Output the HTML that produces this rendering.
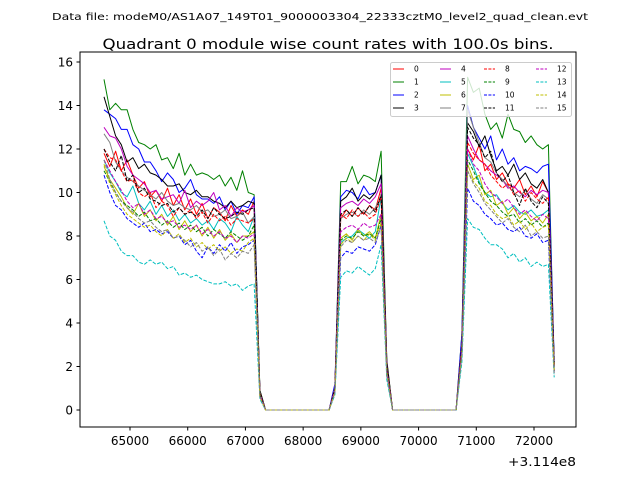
<!DOCTYPE html>
<html><head><meta charset="utf-8"><style>
html,body{margin:0;padding:0;background:#fff;}
svg{display:block;font-family:"DejaVu Sans","Liberation Sans",sans-serif;}
</style></head><body>
<svg id="chart" width="640" height="480" viewBox="0 0 640 480" xmlns="http://www.w3.org/2000/svg">
<rect width="640" height="480" fill="#fff"/>
<text x="320" y="20" font-size="10" text-anchor="middle" textLength="536" lengthAdjust="spacingAndGlyphs">Data file: modeM0/AS1A07_149T01_9000003304_22333cztM0_level2_quad_clean.evt</text>
<text x="328" y="49" font-size="14.4" text-anchor="middle" textLength="451" lengthAdjust="spacingAndGlyphs">Quadrant 0 module wise count rates with 100.0s bins.</text>
<g id="plot"></g>
<rect x="80" y="52" width="496" height="375" fill="none" stroke="#000" stroke-width="1"/>
<g id="axes"></g>
<text x="576" y="466" font-size="12" text-anchor="end" textLength="68" lengthAdjust="spacingAndGlyphs">+3.114e8</text>
<g id="legend"></g>
</svg>
<script>
const xStart = 64550, xStep = 100;
const yTicks = [0,2,4,6,8,10,12,14,16];
const xTicks = [65000,66000,67000,68000,69000,70000,71000,72000];
const seriesNames = ["0","1","2","3","4","5","6","7","8","9","10","11","12","13","14","15"];
const gapZeros = [0,0,0,0,0,0,0,0,0,0,0,0];
const segA = [
[11.8,11.2,11.9,11.0,11.5,10.8,10.2,10.5,9.8,10.1,9.6,10.2,9.4,9.9,9.2,9.7,9.0,9.5,8.8,9.3,9.1,8.7,9.4,8.9,9.2,9.0,9.6,0.8],
[15.2,13.8,14.1,13.8,13.8,12.9,12.3,12.2,12.0,12.2,11.5,11.6,11.1,11.8,10.8,11.3,10.8,10.9,10.8,10.6,10.8,10.3,10.7,10.1,11.0,10.0,9.9,0.9],
[13.8,13.6,13.4,12.9,12.9,12.2,12.0,11.4,11.4,11.0,10.5,10.9,10.6,10.0,10.2,10.6,9.9,9.7,9.7,9.5,9.8,9.2,9.6,9.0,9.4,9.3,9.8,0.8],
[14.4,13.5,12.6,12.2,11.4,11.6,11.1,11.3,10.9,10.8,10.6,10.3,10.3,10.4,10.0,9.9,10.1,9.8,9.8,9.6,9.5,9.3,9.6,9.3,9.4,9.6,9.5,0.9],
[13.0,12.6,12.5,12.0,11.2,10.8,10.6,10.4,10.0,10.1,9.7,9.8,9.9,9.5,10.1,9.3,9.6,9.4,9.6,10.0,9.2,9.4,8.9,9.3,9.1,9.2,9.4,0.8],
[11.5,10.9,10.5,10.0,9.8,10.3,9.5,9.2,9.6,9.0,9.4,8.9,9.2,8.7,9.0,8.6,8.8,8.5,8.7,8.3,8.8,8.6,8.2,8.9,8.5,8.2,8.9,0.7],
[11.2,10.6,10.2,9.8,9.3,9.0,9.5,8.9,9.2,8.7,9.0,8.5,8.9,8.3,8.7,8.2,8.5,8.0,8.4,7.9,8.3,7.8,8.1,7.7,8.0,8.0,8.2,0.7],
[12.7,12.3,11.4,11.0,10.7,10.5,10.3,10.1,9.9,9.7,10.0,9.6,9.4,9.5,9.3,9.2,9.4,9.1,9.2,8.9,9.0,9.2,8.8,8.9,9.1,8.6,8.9,0.8],
[12.0,11.6,11.5,11.0,10.5,10.6,10.0,9.8,10.0,9.3,9.6,9.4,8.9,9.3,9.0,9.2,8.8,9.1,8.6,9.0,8.7,8.9,8.5,8.8,8.7,8.6,8.8,0.8],
[11.0,10.5,10.0,9.6,9.4,9.2,8.9,9.1,8.7,8.8,8.5,8.7,8.4,8.6,8.3,8.5,8.2,8.4,8.0,8.3,8.1,7.9,8.2,8.0,7.8,8.0,8.5,0.7],
[10.8,10.0,9.4,9.2,8.8,8.6,8.4,8.6,8.2,8.3,8.1,8.2,7.9,8.0,7.6,7.8,7.3,7.0,7.5,7.2,7.6,7.3,7.7,7.2,7.5,7.6,7.8,0.6],
[12.0,11.4,11.0,11.7,10.5,10.8,10.0,10.2,9.7,9.6,9.4,9.5,9.1,9.3,9.0,9.1,8.9,9.2,8.8,9.3,9.0,8.8,8.9,9.1,9.0,9.2,9.3,0.8],
[11.5,11.0,10.5,10.1,9.6,9.3,9.5,9.0,9.2,8.8,8.9,8.6,8.7,8.4,8.5,8.3,8.5,8.1,8.3,8.0,8.2,7.9,8.0,7.7,8.0,7.9,8.1,0.7],
[8.7,8.0,7.8,7.3,7.1,7.1,6.8,6.7,6.9,6.7,6.8,6.5,6.6,6.2,6.3,6.1,6.2,6.0,5.9,5.8,5.8,5.9,5.7,5.8,5.5,5.7,5.8,0.5],
[11.3,10.4,9.9,9.4,9.0,8.8,8.6,8.4,8.5,8.2,8.0,8.3,7.9,8.1,7.7,7.9,7.5,7.7,7.4,7.6,7.3,7.5,7.2,7.4,7.3,7.7,7.9,0.6],
[11.5,10.6,10.0,9.6,9.3,9.1,8.8,8.6,8.7,8.4,8.2,8.3,7.9,8.0,7.8,7.5,7.7,7.3,7.5,7.1,7.4,6.9,7.2,7.0,7.3,7.2,7.6,0.6]
];
const segB = [
[1.0,8.8,9.2,8.9,9.3,9.0,9.4,9.2,10.2,2.0],
[1.0,10.5,10.5,11.2,10.4,10.8,10.7,10.5,11.9,2.2],
[1.2,9.8,10.1,10.0,9.7,10.3,9.9,10.0,10.8,2.0],
[1.0,9.6,9.8,10.2,9.6,9.9,9.7,10.0,10.8,2.3],
[1.0,9.3,9.5,9.6,9.4,9.7,9.5,9.8,10.4,2.0],
[0.9,7.7,7.9,8.0,8.3,8.1,7.9,8.2,9.8,1.8],
[0.9,7.9,8.1,7.8,8.3,8.0,8.2,7.9,9.0,1.8],
[1.0,8.8,9.0,9.1,8.9,9.2,9.0,9.3,9.8,2.0],
[1.0,9.0,8.8,9.2,8.9,9.1,8.8,9.0,9.8,1.9],
[0.9,7.8,8.0,7.9,8.2,8.0,8.1,7.9,8.8,1.8],
[0.8,7.0,7.3,7.2,7.5,7.4,7.3,7.6,8.5,1.6],
[1.0,9.0,9.2,8.9,9.3,9.0,9.4,9.1,9.9,2.0],
[0.9,8.2,8.4,8.5,8.3,8.6,8.4,8.5,9.0,1.8],
[0.7,6.1,6.4,6.3,6.6,6.4,6.2,6.5,7.6,1.4],
[0.8,7.6,7.9,7.7,8.0,7.8,8.1,7.8,8.6,1.7],
[0.8,7.5,7.8,7.7,8.0,7.8,7.9,7.7,8.4,1.6]
];
const segC = [
[3.0,12.0,11.5,12.2,11.0,11.3,10.6,10.9,10.4,10.2,10.6,9.9,10.3,9.8,10.5,10.0,2.0],
[3.5,15.3,14.6,14.8,13.6,12.9,13.2,12.5,13.6,12.9,12.8,12.3,12.6,12.2,12.0,12.2,2.0],
[3.5,14.0,13.0,12.5,12.0,12.6,11.5,12.0,11.3,11.6,11.0,11.2,11.1,10.9,11.2,11.3,2.3],
[3.0,13.2,12.8,12.1,12.6,11.7,11.0,11.2,10.8,11.3,10.6,10.9,10.4,10.2,10.6,10.0,2.2],
[3.0,12.6,12.0,11.5,11.3,11.0,10.8,10.6,10.2,10.3,10.0,9.8,10.1,9.9,10.1,10.0,2.0],
[2.8,11.8,11.2,10.5,10.0,9.8,9.9,9.5,9.2,9.4,9.1,9.0,9.2,8.9,9.0,9.2,1.9],
[2.8,11.3,10.6,10.8,9.9,10.1,9.4,9.6,9.0,9.3,8.8,9.1,8.7,8.9,8.6,9.0,1.8],
[3.0,13.8,13.0,12.3,11.6,11.4,10.9,10.6,10.3,10.0,9.8,10.1,9.7,9.5,9.9,9.7,2.0],
[3.0,12.3,11.8,11.5,11.3,10.8,10.5,10.2,10.4,9.9,10.1,9.6,10.0,9.7,9.5,9.8,2.0],
[2.8,11.5,11.0,10.4,10.0,9.6,9.4,9.1,8.9,9.0,8.6,8.8,8.5,8.7,8.4,8.6,1.8],
[2.5,10.2,9.6,9.4,9.0,8.8,8.5,8.6,8.3,8.2,8.4,8.0,7.9,8.1,7.7,7.8,1.7],
[3.0,13.0,12.5,12.2,11.6,11.9,10.9,10.5,10.8,10.0,9.4,10.2,9.6,9.3,9.8,9.5,2.1],
[2.8,12.0,11.3,11.0,10.4,10.0,9.8,9.5,9.7,9.3,9.0,9.2,8.9,8.7,9.0,8.8,1.8],
[2.2,8.8,8.4,8.3,7.9,7.6,7.6,7.4,7.0,7.2,6.8,7.0,6.6,6.8,6.6,6.7,1.5],
[2.6,11.0,10.5,10.2,9.6,9.4,9.0,8.8,8.9,8.5,8.7,8.3,8.6,8.2,8.4,8.5,1.7],
[2.5,11.0,10.4,10.0,9.5,9.2,8.9,8.6,8.8,8.4,8.2,8.5,8.0,8.2,7.9,8.0,1.6]
];
const colors = ["#ff0000","#008000","#0000ff","#000000","#bf00bf","#00bfbf","#bfbf00","#808080"];
const NS = "http://www.w3.org/2000/svg";
function xs(v){ return 130 + (v - 65000) * (404/7000); }
function ys(v){ return 410 - v * 21.75; }
function mk(tag, attrs, parent){ const e = document.createElementNS(NS, tag); for (const k in attrs) e.setAttribute(k, attrs[k]); parent.appendChild(e); return e; }

const axes = document.getElementById('axes');
yTicks.forEach(t => {
  const y = ys(t);
  const l = mk('line', {x1:76.5, x2:80, y1:y, y2:y, stroke:'#000'}, axes);
  
  
  const tx = mk('text', {x:73, y:y+4.5, 'font-size':12, 'text-anchor':'end'}, axes);
  tx.textContent = String(t);
  
  
});
xTicks.forEach(t => {
  const x = xs(t);
  const l = mk('line', {x1:x, x2:x, y1:427, y2:430.5, stroke:'#000'}, axes);
  
  
  const tx = mk('text', {x:x, y:445, 'font-size':12, 'text-anchor':'middle'}, axes);
  tx.textContent = String(t);
  
  
});

const plot = document.getElementById('plot');
seriesNames.forEach((name, i) => {
  const vals = segA[i].concat(gapZeros, segB[i], gapZeros, segC[i]);
  const pts = vals.map((v, j) => xs(xStart + j * xStep).toFixed(1) + ',' + ys(v).toFixed(1)).join(' ');
  const attrs = {points:pts, fill:'none', stroke:colors[i % 8], 'stroke-width':1, 'stroke-linejoin':'round'};
  if (i >= 8) attrs['stroke-dasharray'] = '3.7,1.6';
  const pl = mk('polyline', attrs, plot);
  
  
});

const legend = document.getElementById('legend');
const lb = mk('rect', {x:390.5, y:62.5, width:181, height:54, rx:2, fill:'#fff', 'fill-opacity':0.8, stroke:'#ccc'}, legend);


const colX = [393, 440, 484, 536];
const rowY = [69, 82, 95, 108];
seriesNames.forEach((name, i) => {
  const c = Math.floor(i / 4), r = i % 4;
  const g = mk('g', {}, legend);
  
  
  const la = {x1:colX[c], x2:colX[c]+11, y1:rowY[r], y2:rowY[r], stroke:colors[i % 8], 'stroke-width':1};
  if (i >= 8) la['stroke-dasharray'] = '3,1.4';
  mk('line', la, g);
  const t = mk('text', {x:colX[c]+21, y:rowY[r]+2.5, 'font-size':7.5}, g);
  t.textContent = name;
});
</script>
</body></html>
